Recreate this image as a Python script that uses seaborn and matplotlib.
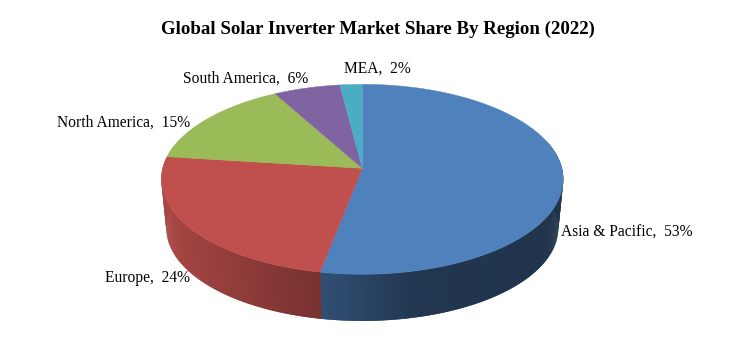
# 3D style pie: global solar inverter market share by region

import numpy as np
import matplotlib
matplotlib.use("Agg")
import matplotlib.pyplot as plt
import seaborn as sns

# -----------------------------------
# 1. Data
# -----------------------------------
regions = ["Asia & Pacific", "Europe", "North America", "South America", "MEA"]
shares = [53, 24, 15, 6, 2]
title = "Global Solar Inverter Market Share By Region (2022)"

colors = ["#4F81BD", "#C0504D", "#9BBB59", "#8064A2", "#4BACC6"]
label_pos = [(561, 232.5), (105, 278), (57, 123), (183, 78.5), (344, 69)]

# -----------------------------------
# 2. Perspective of the disc (pixels)
# -----------------------------------
CX, CY = 362.3, 168.3
A, B, K = 199.6, 93.7, 0.1158
BOTTOM_DY, BOTTOM_SCALE = 49.3, 0.975


def project(theta, dy=0.0, scale=1.0):
    u, v = np.cos(theta), np.sin(theta)
    d = 1 + K * v
    return CX + scale * A * u / d, CY + dy - scale * B * v / d


def side_shade(x):
    return np.interp(x, [165, 320, 420, 560], [0.87, 0.62, 0.42, 0.40])


# -----------------------------------
# 3. Draw
# -----------------------------------
sns.set_theme(style="white")
plt.rcParams["font.family"] = ["Liberation Serif", "DejaVu Sans"]
palette = sns.color_palette(colors)

fig = plt.figure(figsize=(7.5, 3.39), dpi=100)
ax = fig.add_axes([0, 0, 1, 1])

wedges, _ = ax.pie(shares, startangle=90, counterclock=False, colors=palette)
angles = [(w.theta1, w.theta2) for w in wedges]
for w in wedges:
    w.remove()

ax.set_aspect("auto")
ax.set_xlim(0, 750)
ax.set_ylim(339, 0)
ax.axis("off")

# side wall, only the front part can be seen
# strips overlap the next one so no seams show. Go left to right on screen
for (t1, t2), col in zip(angles, palette):
    steps = np.radians(np.arange(t1, t2 + 0.5, 0.5))
    pairs = list(zip(steps[:-1], steps[1:]))
    pairs.sort(key=lambda p: np.cos(p[0]))
    for a, b in pairs:
        if np.sin(0.5 * (a + b)) > 0.3:
            continue
        # widen each strip to hide the seam with its neighbour
        w = np.radians(0.5)
        x1, y1 = project(np.array([a - w, b]))
        x2, y2 = project(np.array([b, a - w]), BOTTOM_DY, BOTTOM_SCALE)
        shade = side_shade(x1.mean())
        c = tuple(np.array(col) * shade)
        ax.fill(np.r_[x1, x2], np.r_[y1, y2], color=c, lw=0)

# top face
for (t1, t2), col in zip(angles, palette):
    theta = np.radians(np.linspace(t1, t2, 300))
    x, y = project(theta)
    ax.fill(np.r_[CX, x], np.r_[CY, y], color=col, lw=0.3)

# labels
for name, val, (lx, ly) in zip(regions, shares, label_pos):
    ax.text(lx, ly, f"{name},  {val}%", fontsize=11.2, color="black",
            ha="left", va="center")

ax.text(378, 29.5, title, fontsize=13.6, fontweight="bold", color="black",
        ha="center", va="center")

fig.savefig("out.png", dpi=100, facecolor="white")
plt.close(fig)
